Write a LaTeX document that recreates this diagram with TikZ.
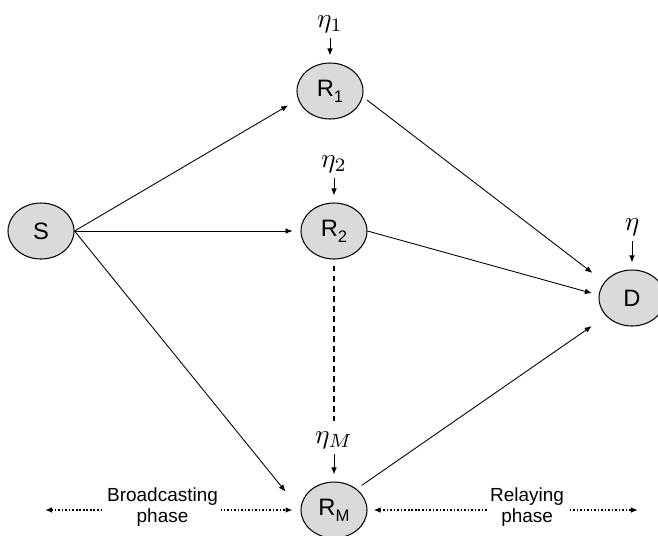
\documentclass[tikz,border=0pt]{standalone}
\usepackage{fontspec}
\setsansfont{Liberation Sans}
\usepackage{graphicx}
\usepackage{xcolor}
\usepackage{tikz}
\usetikzlibrary{arrows.meta,shapes.geometric}

\definecolor{nodegray}{RGB}{218,218,218}
\newcommand{\rsub}[1]{\raisebox{-0.5ex}{\fontsize{9.5}{10}\selectfont #1}}
\newcommand{\noiselab}[1]{\scalebox{1.55}{$#1$}}

\begin{document}
\begin{tikzpicture}[
  x=0.02cm, y=-0.02cm,
  font=\sffamily,
  >={Latex[length=4pt,width=3.2pt]},
  relay/.style={draw=black,line width=0.6pt,fill=nodegray,ellipse,
    minimum width=1.32cm,minimum height=1.12cm,inner sep=0pt,
    font=\sffamily\fontsize{13.5}{15}\selectfont},
  noise/.style={inner sep=0pt},
  link/.style={->,line width=0.5pt},
  phase/.style={<->,line width=0.9pt,dash pattern=on 0.9pt off 1.1pt},
  phaselabel/.style={fill=white,align=center,inner xsep=2pt,inner ysep=0pt,
    yshift=1.7pt,font=\sffamily\fontsize{10.8}{12}\selectfont}
]
\useasboundingbox (0,0) rectangle (658,535);
\node[relay] (S) at (41,231) {S};
\node[relay] (R1) at (330,91) {R\rsub{1}};
\node[relay] (R2) at (334,231) {R\rsub{2}};
\node[relay] (RM) at (334,510) {R\rsub{M}};
\node[relay] (D) at (632,298) {D};
\node[noise] (e1) at (330,24) {\noiselab{\eta_1}};
\node[noise] (e2) at (334,164) {\noiselab{\eta_2}};
\node[noise] (eM) at (334,440) {\noiselab{\eta_M}};
\node[noise] (eD) at (632,227) {\noiselab{\eta}};
% broadcasting links
\draw[link,shorten >=6.5pt] (S.east) -- (R1.195);
\draw[link,shorten >=4.5pt] (S.east) -- (R2.west);
\draw[link,shorten >=13.5pt] (S.east) -- (RM.west);
% relaying links
\draw[link,shorten <=3pt,shorten >=8.5pt] (R1.350) -- (D.150);
\draw[link,shorten >=4pt] (R2.east) -- (D.175);
\draw[link,shorten <=3.5pt,shorten >=10pt] (RM.43) -- (D.215);
% noise
\draw[link,shorten <=3pt,shorten >=4pt] (e1) -- (R1);
\draw[link,shorten <=3pt,shorten >=4pt] (e2) -- (R2);
\draw[link,shorten <=3pt,shorten >=4pt] (eM) -- (RM);
\draw[link,shorten <=3pt,shorten >=4pt] (eD) -- (D);
\draw[line width=1.1pt,dash pattern=on 3.4pt off 2.3pt,shorten <=3.4pt,shorten >=5.5pt] (R2) -- (eM);
% phases
\coordinate (bl) at (45,510);
\coordinate (rr) at (638,510);
\draw[phase,shorten >=4.5pt] (bl) -- node[phaselabel,pos=0.46] (bp) {Broadcasting\\phase} (RM.west);
\draw[phase,shorten <=3.4pt] (RM.east) -- node[phaselabel,pos=0.59] (rp) {Relaying\\phase} (rr);
\end{tikzpicture}
\end{document}
